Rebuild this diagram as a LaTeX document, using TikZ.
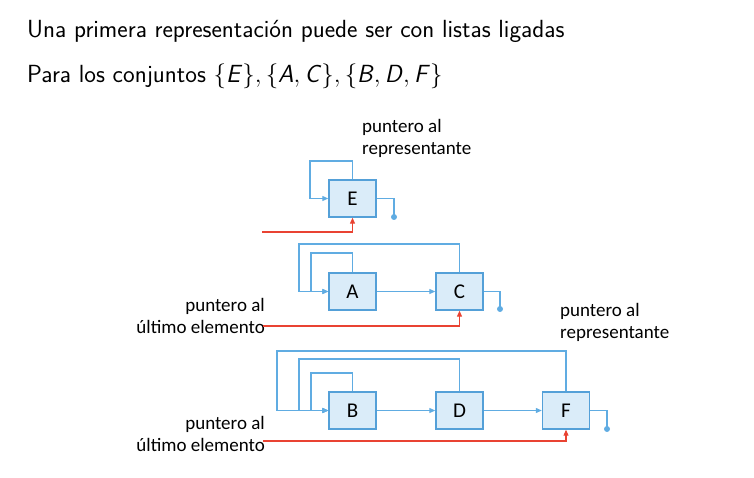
\documentclass[tikz,border=0pt]{standalone}
\usepackage{fontspec}
\newfontfamily\lab{Carlito}
\usetikzlibrary{arrows.meta}
\definecolor{boxfill}{RGB}{218,236,249}
\definecolor{boxline}{RGB}{84,160,216}
\definecolor{lnk}{RGB}{96,172,226}
\definecolor{rd}{RGB}{233,67,50}
\begin{document}
\begin{tikzpicture}[x=1pt,y=-1pt,
  elem/.style={draw=boxline,fill=boxfill,line width=1.4pt,minimum width=47pt,minimum height=37pt,inner sep=0pt,font=\lab\fontsize{21}{21}\selectfont},
  lk/.style={draw=lnk,line width=1.1pt},
  lka/.style={lk,-{Triangle[length=6pt,width=5pt]}},
  rl/.style={draw=rd,line width=1.1pt,-{Triangle[length=6pt,width=5pt]}},
  dotend/.style={circle,fill=lnk,inner sep=0pt,minimum size=6pt},
  lbl/.style={font=\lab\fontsize{19}{22}\selectfont,inner sep=0pt},
  hd/.style={font=\sffamily\fontsize{24.8}{28}\selectfont,anchor=base west,inner sep=0pt}]
\useasboundingbox (0,0) rectangle (754,478);
\node[hd] (t1) at (27,38) {Una primera representación puede ser con listas ligadas};
\node[hd] (t2) at (27,83) {Para los conjuntos $\{$\textsl{E}$\},\{$\textsl{A}$,\,$\textsl{C}$\},\{$\textsl{B}$,\,$\textsl{D}$,\,$\textsl{F}$\}$};
% set E
\node[elem] (E) at (352.5,198.5) {E};
\coordinate (e1) at (310,161);
\node[dotend] (ed) at (394,217) {};
\coordinate (er) at (262,232);
\draw[lka] (E.north) |- (e1) |- (E.west);
\draw[lk] (E.east) -| (ed.center);
\draw[rl] (er) -| (E.south);
\node[lbl,anchor=north west,align=left] (l1) at (362,119) {puntero al\\representante};
% set A C
\node[elem] (A) at (352.5,291.5) {A};
\node[elem] (C) at (459.5,291.5) {C};
\coordinate (a1) at (299,244);
\coordinate (a2) at (311,253);
\node[dotend] (cd) at (500,309) {};
\draw[lka] (C.north) |- (a1) |- (A.west);
\draw[lka] (A.north) |- (a2) |- (A.west);
\draw[lka] (A) -- (C);
\draw[lk] (C.east) -| (cd.center);
\node[lbl,anchor=east,align=right] (l2) at (265,316) {puntero al\\último elemento};
\coordinate (cr) at (263,326);
\draw[rl] (cr) -| (C.south);
% set B D F
\node[elem] (B) at (352.5,410.5) {B};
\node[elem] (D) at (459.5,410.5) {D};
\node[elem] (F) at (566,410.5) {F};
\coordinate (b1) at (277,351);
\coordinate (b2) at (299,359);
\coordinate (b3) at (311,373);
\node[dotend] (fd) at (607,429) {};
\draw[lka] (F.north) |- (b1) |- (B.west);
\draw[lka] (D.north) |- (b2) |- (B.west);
\draw[lka] (B.north) |- (b3) |- (B.west);
\draw[lka] (B) -- (D);
\draw[lka] (D) -- (F);
\draw[lk] (F.east) -| (fd.center);
\node[lbl,anchor=east,align=right] (l3) at (265,434) {puntero al\\último elemento};
\coordinate (fr) at (263,441);
\draw[rl] (fr) -| (F.south);
\node[lbl,anchor=north west,align=left] (l4) at (560,303) {puntero al\\representante};
\end{tikzpicture}
\end{document}
